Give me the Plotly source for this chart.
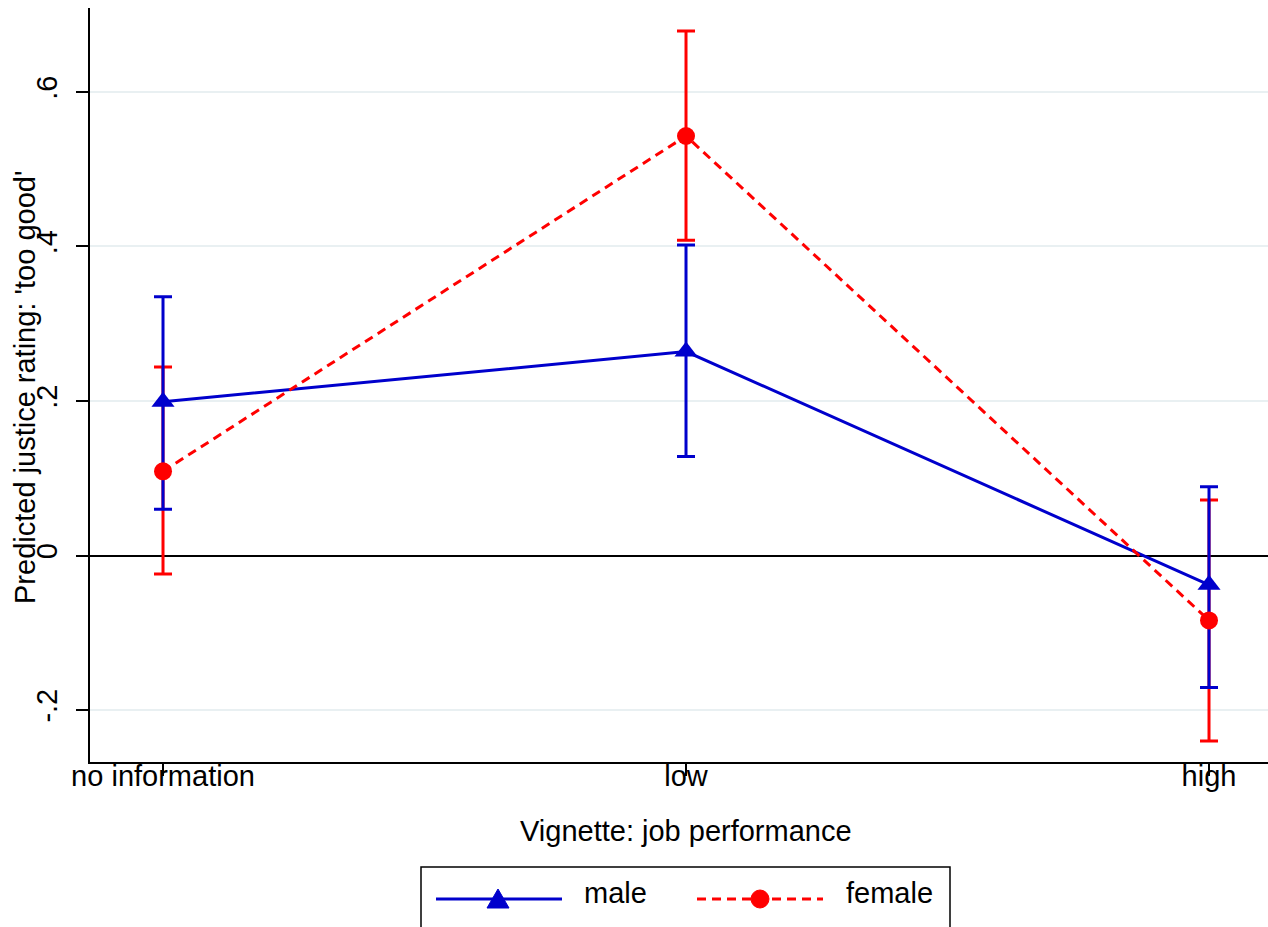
import plotly.graph_objects as go

# ---- data ----
categories = ["no information", "low", "high"]
male_est = [0.199, 0.264, -0.038]
male_lo = [0.060, 0.128, -0.171]
male_hi = [0.335, 0.402, 0.089]
female_est = [0.109, 0.543, -0.084]
female_lo = [-0.024, 0.408, -0.240]
female_hi = [0.244, 0.679, 0.072]
ytick_vals = [-0.2, 0, 0.2, 0.4, 0.6]
ytick_text = ["-.2", "0", ".2", ".4", ".6"]

BLUE = "#0000CC"
RED = "#FF0000"
FONT = "Liberation Sans, Arial, sans-serif"
FS = 29

W, H = 1268, 927
ML, MR, MT, MB = 90, 0, 8, 165
PW = W - ML - MR
PH = H - MT - MB


def px(x):
    return (x - ML) / PW


def py(y):
    return (H - MB - y) / PH


xs = list(range(len(categories)))

fig = go.Figure()


def err_trace(est, lo, hi, color):
    return go.Scatter(
        x=xs, y=est, mode="markers",
        marker=dict(size=2, color="rgba(0,0,0,0)"),
        error_y=dict(type="data", symmetric=False,
                     array=[h - e for h, e in zip(hi, est)],
                     arrayminus=[e - l for e, l in zip(est, lo)],
                     color=color, thickness=3, width=9),
        showlegend=False, hoverinfo="skip")


fig.add_trace(err_trace(female_est, female_lo, female_hi, RED))
fig.add_trace(err_trace(male_est, male_lo, male_hi, BLUE))
fig.add_trace(go.Scatter(x=xs, y=male_est, mode="lines+markers", name="male",
                         line=dict(color=BLUE, width=3),
                         marker=dict(symbol="triangle-up", size=20, color=BLUE),
                         showlegend=False))
fig.add_trace(go.Scatter(x=xs, y=female_est, mode="lines+markers", name="female",
                         line=dict(color=RED, width=3, dash="9px,6px"),
                         marker=dict(symbol="circle", size=18, color=RED),
                         showlegend=False))

fig.update_layout(
    width=W, height=H,
    margin=dict(l=ML, r=MR, t=MT, b=MB, pad=0),
    paper_bgcolor="white", plot_bgcolor="white",
    font=dict(family=FONT, size=FS, color="black"),
    showlegend=False,
)

fig.update_xaxes(
    range=[-0.1396, 2.1128], tickvals=xs, ticktext=categories,
    showgrid=False, zeroline=False,
    showline=True, linecolor="black", linewidth=1.5,
    ticks="outside", ticklen=12, tickwidth=1.5, tickcolor="black",
    ticklabelstandoff=-25,
    tickfont=dict(family=FONT, size=FS, color="black"),
    automargin=False,
)
fig.update_yaxes(
    range=[-0.2673, 0.7087], tickvals=ytick_vals, ticktext=ytick_text,
    tickangle=-90,
    showgrid=True, gridcolor="#E9F0F2", gridwidth=2,
    zeroline=True, zerolinecolor="black", zerolinewidth=1.5,
    showline=True, linecolor="black", linewidth=1.5,
    ticks="outside", ticklen=12, tickwidth=1.5, tickcolor="black",
    ticklabelstandoff=8,
    tickfont=dict(family=FONT, size=FS, color="black"),
    automargin=False,
)

# axis titles
fig.add_annotation(text="Vignette: job performance", xref="paper", yref="paper",
                   x=px(686), y=py(831), xanchor="center", yanchor="middle",
                   showarrow=False, font=dict(family=FONT, size=FS, color="black"))
fig.add_annotation(text="Predicted justice rating: 'too good'", xref="paper", yref="paper",
                   x=px(25), y=py(388), xanchor="center", yanchor="middle", textangle=-90,
                   showarrow=False, font=dict(family=FONT, size=FS, color="black"))

# legend box (drawn manually)
shapes = []
shapes.append(dict(type="rect", xref="paper", yref="paper",
                   x0=px(421), x1=px(950), y0=py(867), y1=py(940),
                   line=dict(color="black", width=1.5), fillcolor="white", layer="above"))
ly = py(899)
shapes.append(dict(type="line", xref="paper", yref="paper", x0=px(436), x1=px(562), y0=ly, y1=ly,
                   line=dict(color=BLUE, width=3), layer="above"))
shapes.append(dict(type="line", xref="paper", yref="paper", x0=px(697), x1=px(823), y0=ly, y1=ly,
                   line=dict(color=RED, width=3, dash="9px,6px"), layer="above"))
shapes.append(dict(type="path", xref="paper", yref="paper", xsizemode="pixel", ysizemode="pixel",
                   xanchor=px(498), yanchor=ly, path="M -11 -9 L 11 -9 L 0 10 Z",
                   fillcolor=BLUE, line=dict(color=BLUE, width=1), layer="above"))
shapes.append(dict(type="circle", xref="paper", yref="paper", xsizemode="pixel", ysizemode="pixel",
                   xanchor=px(760), yanchor=ly, x0=-9, x1=9, y0=-9, y1=9,
                   fillcolor=RED, line=dict(color=RED, width=1), layer="above"))
fig.update_layout(shapes=shapes)
fig.add_annotation(text="male", xref="paper", yref="paper", x=px(582), y=py(893),
                   xanchor="left", yanchor="middle", showarrow=False,
                   font=dict(family=FONT, size=FS, color="black"))
fig.add_annotation(text="female", xref="paper", yref="paper", x=px(844), y=py(893),
                   xanchor="left", yanchor="middle", showarrow=False,
                   font=dict(family=FONT, size=FS, color="black"))

fig.write_html("out.html")
